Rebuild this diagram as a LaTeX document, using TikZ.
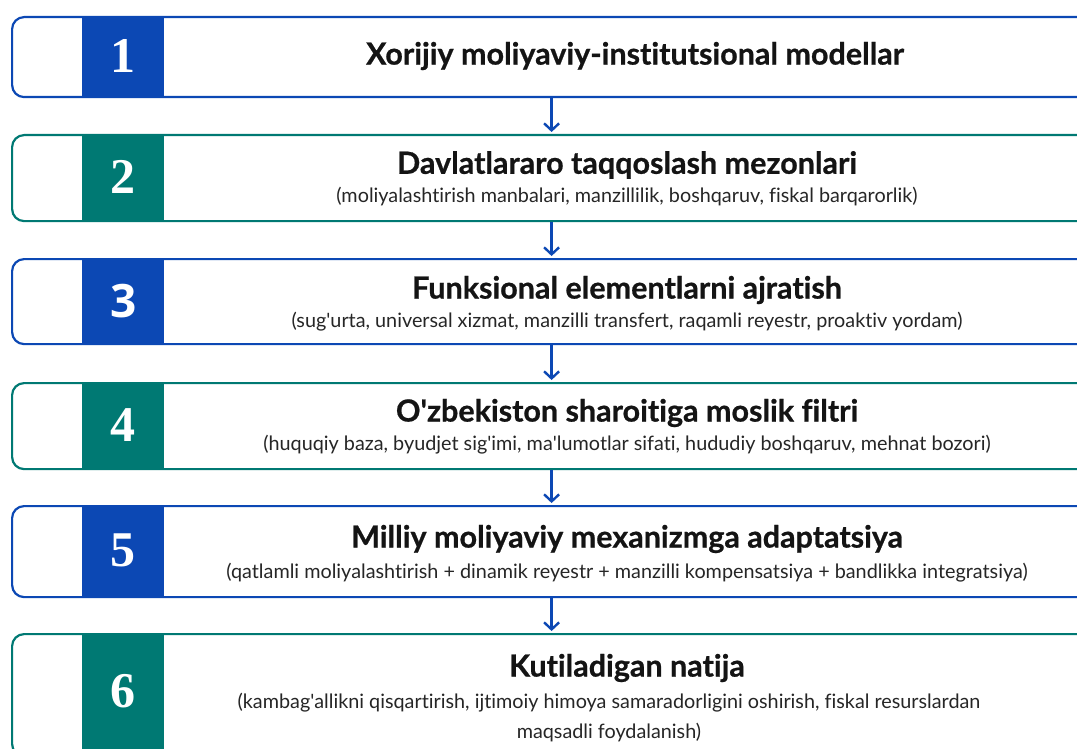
\documentclass[tikz,border=0pt]{standalone}
\usepackage{fontspec}
\setmainfont{Lato}[Ligatures=NoCommon]
\newfontfamily\ttlfont{Lato}[Ligatures=NoCommon, FakeBold=0.7]
\newfontfamily\numfont{Liberation Serif}
\newfontfamily\numsans{Open Sans}
\usetikzlibrary{arrows.meta}
\definecolor{cblue}{RGB}{12,72,180}
\definecolor{cteal}{RGB}{0,121,115}
\newcommand\ap{\textquotesingle}
\begin{document}
\begin{tikzpicture}[x=1pt,y=-1pt,
  box/.style={draw, line width=2.2pt, fill=white, rounded corners=12pt, minimum width=1079pt, anchor=north west, inner sep=0pt},
  numsq/.style={anchor=north west, minimum width=82pt, inner sep=0pt, text=white, font=\numfont\bfseries\fontsize{50}{50}\selectfont},
  ttl/.style={font=\ttlfont\bfseries\fontsize{30.5}{34}\selectfont, text=black!92, inner sep=0pt},
  sub/.style={font=\fontsize{19.8}{30}\selectfont, text=black!85, inner sep=0pt, align=center},
  arr/.style={draw=cblue, line width=2.4pt, -{Straight Barb[length=7pt,width=15pt]}, shorten >=2pt}]
\useasboundingbox (0,0) rectangle (1077,749);
\fill[white] (0,0) rectangle (1077,749);
\clip (0,0) rectangle (1077,749);
% boxes
\node[box, draw=cblue, minimum height=80pt] (b1) at (11,16) {};
\node[box, draw=cteal, minimum height=86pt] (b2) at (11,134) {};
\node[box, draw=cblue, minimum height=85pt] (b3) at (11,258) {};
\node[box, draw=cteal, minimum height=86pt] (b4) at (11,382) {};
\node[box, draw=cblue, minimum height=91pt] (b5) at (11,505) {};
\node[box, draw=cteal, minimum height=122pt] (b6) at (11,633) {};
% number squares
\node[numsq, fill=cblue, minimum height=80pt] (n1) at (82,16) {1};
\node[numsq, fill=cteal, minimum height=86pt] (n2) at (82,134) {2};
\node[numsq, fill=cblue, minimum height=85pt, font=\numsans\bfseries\fontsize{46}{46}\selectfont] (n3) at (82,258) {3};
\node[numsq, fill=cteal, minimum height=86pt] (n4) at (82,382) {4};
\node[numsq, fill=cblue, minimum height=91pt] (n5) at (82,505) {5};
\node[numsq, fill=cteal, minimum height=116pt] (n6) at (82,633) {6};
% texts
\node[ttl] (t1) at (635,56) {Xorijiy moliyaviy-institutsional modellar};
\node[ttl] (t2) at (627,165) {Davlatlararo taqqoslash mezonlari};
\node[sub] (s2) at (627,197) {(moliyalashtirish manbalari, manzillilik, boshqaruv, fiskal barqarorlik)};
\node[ttl] (t3) at (627,290) {Funksional elementlarni ajratish};
\node[sub] (s3) at (627,322) {(sug\ap urta, universal xizmat, manzilli transfert, raqamli reyestr, proaktiv yordam)};
\node[ttl] (t4) at (627,413) {O\ap zbekiston sharoitiga moslik filtri};
\node[sub] (s4) at (627,445) {(huquqiy baza, byudjet sig\ap imi, ma\ap lumotlar sifati, hududiy boshqaruv, mehnat bozori)};
\node[ttl] (t5) at (627,539) {Milliy moliyaviy mexanizmga adaptatsiya};
\node[sub] (s5) at (627,573) {(qatlamli moliyalashtirish + dinamik reyestr + manzilli kompensatsiya + bandlikka integratsiya)};
\node[ttl] (t6) at (627,668) {Kutiladigan natija};
\node[sub] (s6) at (609,718) {(kambag\ap allikni qisqartirish, ijtimoiy himoya samaradorligini oshirish, fiskal resurslardan\\maqsadli foydalanish)};
% arrows
\draw[arr] (b1.south) -- (b2.north);
\draw[arr] (b2.south) -- (b3.north);
\draw[arr] (b3.south) -- (b4.north);
\draw[arr] (b4.south) -- (b5.north);
\draw[arr] (b5.south) -- (b6.north);
\end{tikzpicture}
\end{document}
